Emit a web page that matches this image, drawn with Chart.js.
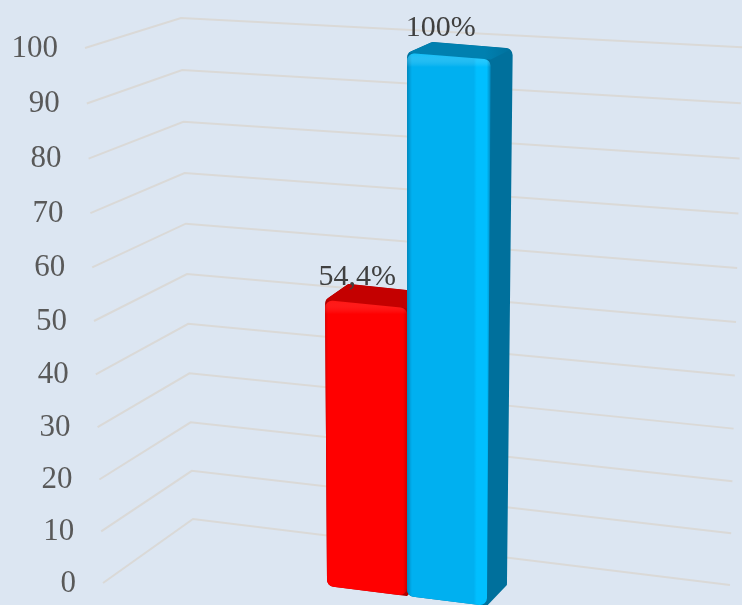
<!DOCTYPE html>
<html><head><meta charset="utf-8">
<style>html,body{margin:0;padding:0;background:#DCE6F2;overflow:hidden}canvas{display:block}</style>
<script src="https://cdn.jsdelivr.net/npm/chart.js@4"></script>
</head><body><canvas id="c" width="742" height="605"></canvas>
<script>
const categories = [""];
const seriesNames = ["Série 1", "Série 2"];
const redValues = [54.4];
const blueValues = [100];
const valueLabels = ["54,4%", "100%"];
const tickValues = [0,10,20,30,40,50,60,70,80,90,100];

const K = 0.042, lerp=(a,b,t)=>a+(b-a)*t;
class PerspectiveScale extends Chart.LinearScale {
  getPixelForValue(v){
    if(v===null||v===undefined) return NaN;
    const t=(v-this.min)/(this.max-this.min);
    return this.getPixelForDecimal(t/(1+K*(1-t)));
  }
  _computeLabelItems(area){
    const items=super._computeLabelItems(area);
    items.forEach(it=>{const v=parseFloat(it.label);it.options.translation=[it.options.translation[0]-27+(100-v)*0.18,it.options.translation[1]+1.5];});
    return items;
  }
}
PerspectiveScale.id='perspective';
PerspectiveScale.defaults=Chart.LinearScale.defaults;
Chart.register(PerspectiveScale);

function roundedPoly(ctx,pts,r){
  const n=pts.length;ctx.beginPath();
  const m=[(pts[n-1][0]+pts[0][0])/2,(pts[n-1][1]+pts[0][1])/2];
  ctx.moveTo(m[0],m[1]);
  pts.forEach((p,i)=>{const q=pts[(i+1)%n];ctx.arcTo(p[0],p[1],q[0],q[1],r[i]);});
  ctx.closePath();
}
function plainPoly(ctx,pts){ctx.beginPath();pts.forEach((p,i)=>i?ctx.lineTo(p[0],p[1]):ctx.moveTo(p[0],p[1]));ctx.closePath();}
const styles=[
 {front:'#FF0000',edge:'#D00000',hi:'#FF0000',glow:'rgba(255,70,60,0.30)',top:'#C40000',side:'#B00000'},
 {front:'#00B0F0',edge:'#0088BE',hi:'#00BFFF',glow:'rgba(30,205,255,0.5)',top:'#0080B0',side:'#00709C'}
];
function drawBar3D(chart,index){
  const ctx=chart.ctx,yS=chart.scales.y,meta=chart.getDatasetMeta(index),s=styles[index];
  const pivot=(chart.chartArea.left+chart.chartArea.right)/2;
  meta.data.forEach(el=>{
    const T=(yS.getPixelForValue(0)-el.y)/(yS.getPixelForValue(0)-yS.getPixelForValue(100));
    const P=(x,pix,t)=>{const sl=lerp(0.118,0.078,t),o=14-8*t*t;
      return [pivot+(x-pivot)*(1-0.045*(1-t)),pix+sl*(x-pivot)+o];};
    const L=el.x-el.width/2,R=el.x+el.width/2,W=R-L;
    const tl=P(L,el.y,T),tr=P(R,el.y,T),bl=P(L,el.base,0),br=P(R,el.base,0);
    const d=t=>[lerp(20,24,t),lerp(-21,-10,t)];
    const dT=d(T),d0=d(0);
    const btl=[tl[0]+dT[0]+1,tl[1]+dT[1]-1],btr=[tr[0]+dT[0]-2,tr[1]+dT[1]-1];
    const bbr=[br[0]+d0[0],br[1]+d0[1]];
    ctx.save();
    ctx.save();
    roundedPoly(ctx,[tl,btl,btr,bbr,br,bl],[7,5,7,1,1,7]);
    ctx.clip();
    ctx.fillStyle=s.side;ctx.fillRect(L-10,btl[1]-10,W+60,br[1]-btl[1]+30);
    plainPoly(ctx,[tl,btl,btr,tr]);
    const tg=ctx.createLinearGradient(tr[0]-6,0,btr[0],0);
    tg.addColorStop(0,s.top);tg.addColorStop(1,s.side);
    ctx.fillStyle=tg;ctx.fill();
    ctx.restore();
    roundedPoly(ctx,[tl,tr,br,bl],[7,7,7,7]);
    const g=ctx.createLinearGradient(L,0,R,0);
    g.addColorStop(0,s.edge);g.addColorStop(5/W,s.front);
    g.addColorStop(1-17/W,s.front);g.addColorStop(1-14/W,s.hi);
    g.addColorStop(1-4/W,s.hi);g.addColorStop(1,s.edge);
    ctx.fillStyle=g;ctx.fill();ctx.clip();
    const h=ctx.createLinearGradient(0,tl[1],0,tl[1]+14);
    h.addColorStop(0,s.glow);h.addColorStop(1,'rgba(255,255,255,0)');
    ctx.fillStyle=h;ctx.fillRect(L-4,tl[1]-10,W+8,26);
    ctx.restore();
  });
}
const perspective3D={
  id:'perspective3D',
  beforeDatasetsDraw(chart){
    const ctx=chart.ctx,y=chart.scales.y;
    ctx.save();ctx.strokeStyle='#DAD9D7';ctx.lineWidth=2;ctx.lineJoin='miter';
    y.ticks.forEach((tk,i)=>{
      const t=tk.value/100,p=y.getPixelForTick(i);
      const fx=103-18*t,fy=p+1;
      const cx=193-12*t,cy=p+lerp(-63,-29,t);
      const rx=lerp(730,742,t),ry=cy+(rx-cx)*lerp(0.123,0.052,t);
      ctx.beginPath();ctx.moveTo(fx,fy);ctx.lineTo(cx,cy);ctx.lineTo(rx,ry);ctx.stroke();
    });
    ctx.restore();
    chart.data.datasets.forEach((ds,i)=>drawBar3D(chart,i));
  },
  beforeDatasetDraw(){return false;},
  afterDatasetsDraw(chart){
    const ctx=chart.ctx;
    ctx.save();ctx.font='30px "Liberation Serif"';ctx.fillStyle='#404040';ctx.textAlign='center';ctx.textBaseline='alphabetic';
    chart.data.datasets.forEach((ds,i)=>{
      chart.getDatasetMeta(i).data.forEach(el=>ctx.fillText(valueLabels[i],el.x-8,el.y-11.5));
    });
    ctx.restore();
  }
};
const bg={id:'bg',beforeDraw(c){c.ctx.save();c.ctx.fillStyle='#DCE6F2';c.ctx.fillRect(0,0,c.width,c.height);c.ctx.restore();}};

new Chart(document.getElementById('c'),{
  type:'bar',
  data:{labels:categories,datasets:[
    {label:seriesNames[0],data:redValues,backgroundColor:'#FF0000',barPercentage:1,categoryPercentage:0.26},
    {label:seriesNames[1],data:blueValues,backgroundColor:'#00B0F0',barPercentage:1,categoryPercentage:0.26}
  ]},
  options:{
    responsive:false,animation:false,
    layout:{padding:{top:47,bottom:23,left:0,right:13}},
    plugins:{legend:{display:false},title:{display:false},tooltip:{enabled:false}},
    scales:{
      x:{display:false,grid:{display:false}},
      y:{type:'perspective',min:0,max:100,
        afterBuildTicks(a){a.ticks=tickValues.map(v=>({value:v}));},
        afterFit(a){a.width=85;},
        grid:{display:false,drawTicks:false},border:{display:false},
        ticks:{padding:0,color:'#595959',font:{family:'"Liberation Serif"',size:31},autoSkip:false,maxRotation:0}
      }
    }
  },
  plugins:[bg,perspective3D]
});
</script></body></html>
